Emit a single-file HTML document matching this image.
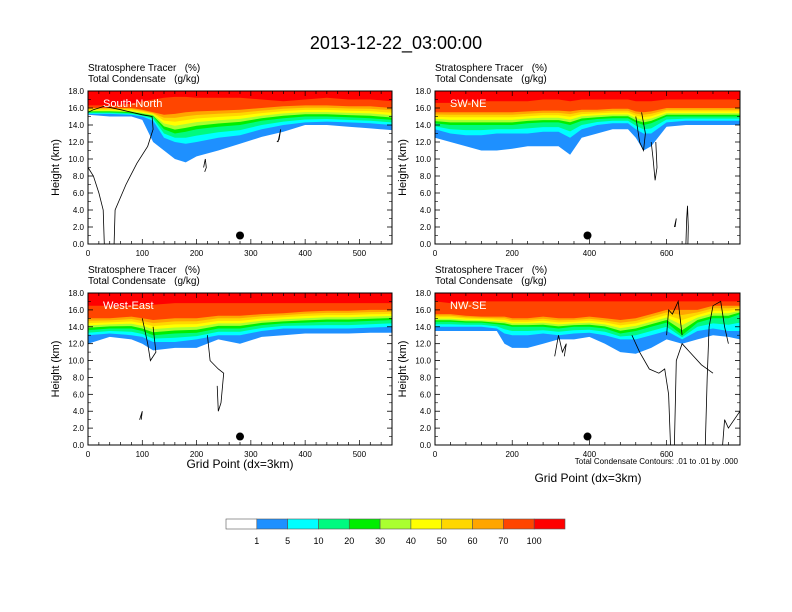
<!DOCTYPE html>
<html><head><meta charset="utf-8"><style>
html,body{margin:0;padding:0;background:#fff;}
svg{display:block;font-family:"Liberation Sans",sans-serif;}
text{white-space:pre;}
</style></head><body>
<svg id="chart" width="792" height="612" viewBox="0 0 792 612" xmlns="http://www.w3.org/2000/svg">
<text x="396" y="49" text-anchor="middle" font-size="18">2013-12-22_03:00:00</text>
</svg>
<script>
// ----- data -----
const levelLabels = ["1","5","10","20","30","40","50","60","70","100"];
const levelColors = ["#ffffff","#1e90ff","#00ffff","#00fa80","#00ee00","#aaff30","#ffff00","#ffd700","#ffa500","#ff4500","#ff0000"];
const panelNames = ["South-North","SW-NE","West-East","NW-SE"];

const snX = [0,40,80,100,120,140,160,180,200,240,280,320,360,400,440,480,520,560];
const snB1 = [15.2,15.0,15.0,14.6,12.0,11.0,10.0,9.6,10.3,11.0,11.8,12.6,13.2,14.0,14.0,13.8,13.6,13.4];
const snB2 = [15.3,15.3,15.2,15.0,14.5,12.5,12.0,11.8,12.0,12.5,12.8,13.5,14.0,14.3,14.4,14.3,14.2,14.0];
const snB4 = [15.5,15.5,15.4,15.2,15.0,13.5,13.0,13.2,13.5,13.8,14.0,14.5,14.8,15.0,15.0,14.9,14.8,14.6];
const snB9 = [16.0,16.0,16.0,15.8,15.5,15.2,15.3,15.5,15.6,15.7,15.8,16.0,16.2,16.3,16.3,16.2,16.2,16.0];
const snB10 = [16.3,16.3,16.5,16.8,17.0,17.2,17.3,17.3,17.2,17.2,17.2,17.0,16.8,17.0,17.2,17.0,17.0,16.8];

const swX = [0,40,80,120,160,200,240,280,320,350,380,420,460,500,520,540,560,600,650,700,750,790];
const swB1 = [12.5,12.0,11.5,11.0,11.0,11.2,11.5,11.5,11.5,10.5,12.5,13.0,13.5,13.5,12.5,11.0,11.5,13.8,14.0,14.0,14.0,14.0];
const swB2 = [13.5,13.0,12.8,12.8,13.0,13.0,13.0,13.2,13.2,12.5,13.5,14.0,14.2,14.2,13.5,13.0,13.0,14.3,14.5,14.5,14.5,14.5];
const swB4 = [14.2,14.0,14.0,14.0,14.0,14.0,14.2,14.3,14.3,14.0,14.5,14.7,14.8,14.8,14.3,14.0,14.2,15.0,15.0,15.0,15.0,15.0];
const swB9 = [15.5,15.5,15.5,15.5,15.5,15.5,15.6,15.7,15.7,15.6,15.8,15.8,15.9,15.9,15.6,15.5,15.6,16.0,16.0,16.0,16.0,16.0];
const swB10 = [16.6,16.6,16.8,16.8,16.8,16.8,16.8,17.0,17.0,16.8,17.0,17.0,17.0,17.0,16.8,16.8,16.8,17.0,17.0,17.0,17.0,17.0];

const weX = [0,40,80,100,120,160,200,240,280,320,360,400,440,480,520,560];
const weB1 = [12.0,12.8,12.5,12.0,11.2,11.5,11.5,12.5,12.0,12.8,13.0,13.2,13.2,13.2,13.3,13.3];
const weB2 = [13.0,13.2,13.0,12.8,12.2,12.2,12.5,13.0,13.0,13.5,13.8,13.8,13.8,13.8,13.9,14.0];
const weB4 = [13.6,13.8,13.8,13.5,13.0,13.2,13.3,13.8,13.8,14.2,14.4,14.5,14.6,14.6,14.7,14.8];
const weB9 = [15.0,15.0,15.2,15.0,14.8,15.0,15.0,15.3,15.3,15.5,15.6,15.8,15.9,15.9,16.0,16.0];
const weB10 = [16.5,16.5,16.5,16.6,16.6,16.8,16.8,16.8,16.8,16.8,16.8,16.8,16.8,16.8,16.8,16.8];

const nwX = [0,40,80,120,160,180,200,240,280,320,360,400,440,480,520,560,600,640,680,720,760,790];
const nwB1 = [13.5,13.5,13.5,13.5,13.5,12.0,11.5,11.5,12.0,12.5,12.5,12.8,12.0,11.0,10.8,11.5,12.5,12.0,12.5,13.0,12.8,12.5];
const nwB2 = [14.0,14.0,14.0,14.0,13.8,13.2,13.0,13.0,13.2,13.0,13.2,13.3,13.0,12.5,12.5,13.0,13.5,12.5,13.5,13.8,13.5,13.5];
const nwB4 = [14.6,14.6,14.5,14.5,14.3,14.2,14.0,14.0,14.0,13.8,14.0,14.0,13.8,13.2,13.5,14.0,14.5,13.0,14.5,15.0,15.0,15.5];
const nwB9 = [15.5,15.5,15.3,15.2,15.2,15.2,15.0,15.0,15.2,15.0,15.0,15.2,15.0,14.8,15.0,15.5,16.0,16.0,16.0,16.5,16.5,16.5];
const nwB10 = [17.0,16.8,17.0,17.0,17.0,17.0,17.0,17.0,17.0,17.0,17.0,17.0,17.0,17.0,17.0,17.0,17.0,17.0,17.0,17.0,17.0,17.0];

const snContours = [[[0,9],[10,8],[20,6],[28,4],[30,0]],
  [[48,0],[50,4],[70,7],[90,9.5],[110,11.5],[120,13.5],[118,15],[100,15.2],[60,15.8],[30,16.2],[10,15.8],[0,15.5]],
  [[215,8.5],[218,9],[216,10],[213,9]],[[350,12],[355,13.5],[352,12.3],[348,12]]];
const swContours = [[[560,12],[565,10],[570,7.5],[575,9],[572,12]],[[520,15],[530,12],[540,11],[545,13],[535,15.5]],
  [[650,0],[652,3],[654,4.5],[656,2],[655,0]],[[620,2],[625,3],[622,2]]];
const weContours = [[[100,15],[110,12],[115,10],[125,11],[120,14]],[[220,13],[225,10],[240,9],[250,8.5],[245,5],[240,4],[238,7]],
  [[95,3],[100,4],[98,3]]];
const nwContours = [[[510,13],[530,11],[555,9],[580,8.5],[595,9],[605,6],[610,0]],
  [[620,0],[625,10],[640,12],[660,11],[690,9.5],[720,8.5]],
  [[600,13],[605,16],[615,15.5],[630,17],[640,13]],
  [[700,0],[705,8],[710,14],[720,16.5],[740,17],[750,14],[760,12]],
  [[745,0],[750,3],[760,2],[790,4]],[[310,10.5],[320,13],[330,11],[340,12],[335,10.5]]];

const dotX = [280,395,280,395];
const dotY = [1.0,1.0,1.0,1.0];

// ----- layout -----
const panels = [
  {x0:88,x1:392,y0:91,y1:244,xmax:560,xt:100,xm:20,X:snX,B:[snB1,snB2,snB4,snB9,snB10],C:snContours},
  {x0:435,x1:740,y0:91,y1:244,xmax:790,xt:200,xm:40,X:swX,B:[swB1,swB2,swB4,swB9,swB10],C:swContours},
  {x0:88,x1:392,y0:293,y1:445,xmax:560,xt:100,xm:20,X:weX,B:[weB1,weB2,weB4,weB9,weB10],C:weContours},
  {x0:435,x1:740,y0:293,y1:445,xmax:790,xt:200,xm:40,X:nwX,B:[nwB1,nwB2,nwB4,nwB9,nwB10],C:nwContours}
];
const svg = document.getElementById('chart');
const NS = "http://www.w3.org/2000/svg";
function mk(tag, attrs, parent){const e=document.createElementNS(NS,tag);for(const k in attrs)e.setAttribute(k,attrs[k]);(parent||svg).appendChild(e);return e;}

panels.forEach((p,pi)=>{
  const g = mk('g',{});
  
  
  const sx = v => p.x0 + v/p.xmax*(p.x1-p.x0);
  const sy = v => p.y1 - v/18*(p.y1-p.y0);
  const [b1,b2,b4,b9,b10] = p.B;
  const lev = [b1,b2, b2.map((v,i)=>(v+b4[i])/2), b4];
  for(let k=1;k<=4;k++) lev.push(b4.map((v,i)=>v+(b9[i]-v)*k/5));
  lev.push(b9, b10);
  lev.forEach((arr,li)=>{
    let d = 'M'+sx(p.X[0])+','+sy(18);
    p.X.forEach((xv,i)=>{ d += ' L'+sx(xv).toFixed(1)+','+sy(arr[i]).toFixed(1); });
    d += ' L'+sx(p.X[p.X.length-1])+','+sy(18)+' Z';
    const path = mk('path',{d:d, fill:levelColors[li+1], stroke:'none'}, g);
    
    
  });
  p.C.forEach(c=>{
    const d = 'M'+c.map(q=>sx(q[0]).toFixed(1)+','+sy(q[1]).toFixed(1)).join(' L');
    const l = mk('path',{d:d, fill:'none', stroke:'#000', 'stroke-width':0.8}, g);
    
    
  });
  const dot = mk('circle',{cx:sx(dotX[pi]),cy:sy(dotY[pi]),r:4,fill:'#000'}, g);
  
  
  const fr = mk('rect',{x:p.x0,y:p.y0,width:p.x1-p.x0,height:p.y1-p.y0,fill:'none',stroke:'#000','stroke-width':1}, g);
  
  
  for(let v=0; v<=18; v+=2){
    const y=sy(v);
    mk('line',{x1:p.x0,x2:p.x0+5,y1:y,y2:y,stroke:'#000','stroke-width':0.8},g);
    mk('line',{x1:p.x1,x2:p.x1-5,y1:y,y2:y,stroke:'#000','stroke-width':0.8},g);
    const t = mk('text',{x:p.x0-4,y:y+3,'text-anchor':'end','font-size':8},g);
    t.textContent = v.toFixed(1);
    
    
  }
  for(let v=1; v<18; v+=2){
    const y=sy(v);
    mk('line',{x1:p.x0,x2:p.x0+3,y1:y,y2:y,stroke:'#000','stroke-width':0.6},g);
    mk('line',{x1:p.x1,x2:p.x1-3,y1:y,y2:y,stroke:'#000','stroke-width':0.6},g);
  }
  for(let v=0; v<=p.xmax; v+=p.xm){
    const x=sx(v), major = v%p.xt===0, L = major?5:3;
    mk('line',{x1:x,x2:x,y1:p.y1,y2:p.y1-L,stroke:'#000','stroke-width':0.7},g);
    mk('line',{x1:x,x2:x,y1:p.y0,y2:p.y0+L,stroke:'#000','stroke-width':0.7},g);
    if(major){
      const t = mk('text',{x:x,y:p.y1+12,'text-anchor':'middle','font-size':8},g);
      t.textContent = v;
      
      
    }
  }
  const yt = mk('text',{x:0,y:0,'text-anchor':'middle','font-size':11,transform:'translate('+(p.x0-29)+','+((p.y0+p.y1)/2)+') rotate(-90)'},g);
  yt.textContent = 'Height (km)';
  
  
  const h1 = mk('text',{x:p.x0,y:p.y0-20,'font-size':10},g);
  h1.textContent = 'Stratosphere Tracer   (%)';
  
  
  const h2 = mk('text',{x:p.x0,y:p.y0-9,'font-size':10},g);
  h2.textContent = 'Total Condensate   (g/kg)';
  
  
  const nm = mk('text',{x:p.x0+15,y:p.y0+16,'font-size':11,fill:'#fff'},g);
  nm.textContent = panelNames[pi];
  
  
});

[[240,468],[588,482]].forEach(q=>{
  const t = mk('text',{x:q[0],y:q[1],'text-anchor':'middle','font-size':12});
  t.textContent = 'Grid Point (dx=3km)';
  
  
});
const note = mk('text',{x:738,y:464,'text-anchor':'end','font-size':8});
note.textContent = 'Total Condensate Contours: .01 to .01 by .000';



const cb = mk('g',{});


const cbx0=226, cbx1=565, bw=(cbx1-cbx0)/levelColors.length;
levelColors.forEach((c,i)=>{
  const r = mk('rect',{x:cbx0+i*bw,y:519,width:bw,height:10,fill:c,stroke:'#555','stroke-width':0.6},cb);
  
  
});
levelLabels.forEach((l,i)=>{
  const t = mk('text',{x:cbx0+(i+1)*bw,y:544,'text-anchor':'middle','font-size':9},cb);
  t.textContent = l;
  
  
});
</script>
</body></html>
